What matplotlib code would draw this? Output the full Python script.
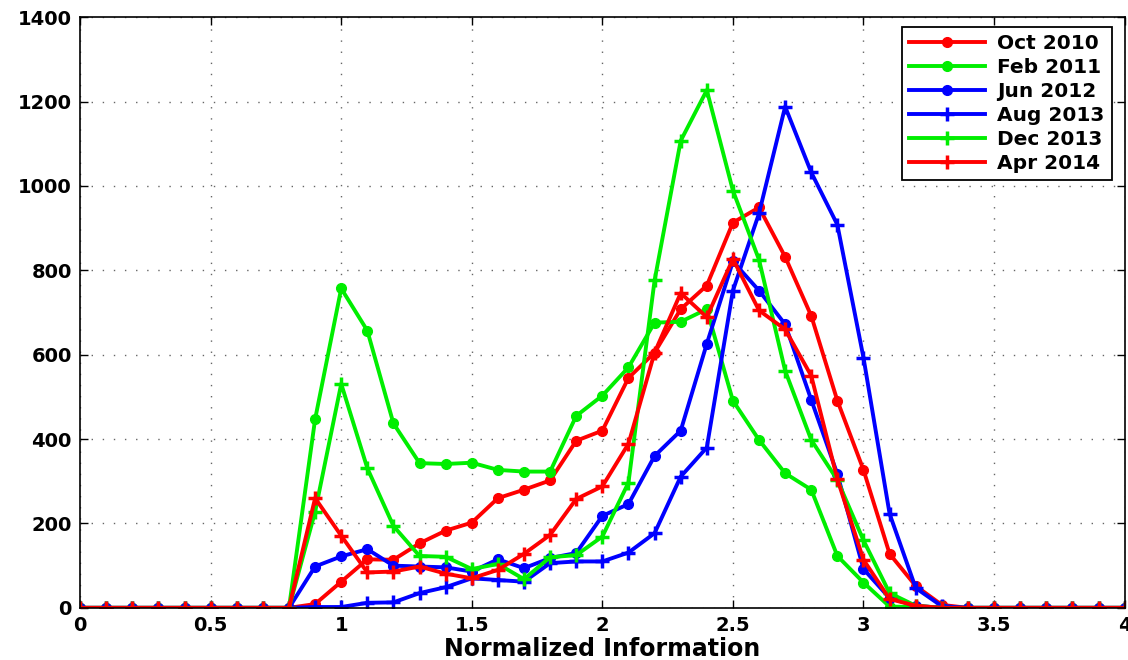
import numpy as np
import matplotlib
matplotlib.use("Agg")
import matplotlib.pyplot as plt

plt.rcParams['font.family'] = ['DejaVu Sans']
plt.rcParams['font.weight'] = 'bold'

# x positions: 0.0 .. 4.0 in steps of 0.1
x = np.round(np.arange(0, 4.01, 0.1), 1)

z9 = [0] * 9   # 0.0 - 0.8
z7 = [0] * 7   # 3.4 - 4.0

oct_2010 = z9 + [9, 62, 115, 114, 153, 183, 202, 260, 280, 302, 396, 420, 545, 605, 708,
                 764, 913, 949, 832, 692, 491, 327, 128, 52, 7] + z7
feb_2011 = z9 + [447, 757, 657, 437, 343, 341, 344, 327, 323, 323, 455, 503, 570, 676, 678,
                 708, 491, 398, 319, 280, 123, 60, 3, 2, 0] + z7
jun_2012 = z9 + [98, 122, 139, 100, 98, 96, 86, 115, 94, 118, 130, 218, 246, 360, 420,
                 626, 821, 752, 672, 493, 317, 92, 23, 5, 0] + z7
aug_2013 = z9 + [2, 2, 12, 13, 35, 49, 70, 66, 62, 106, 110, 110, 131, 177, 311,
                 380, 752, 935, 1188, 1032, 908, 593, 223, 47, 4] + z7
dec_2013 = z9 + [228, 531, 331, 194, 123, 121, 92, 104, 68, 120, 125, 169, 297, 776, 1107,
                 1227, 989, 825, 562, 398, 303, 160, 35, 5, 0] + z7
apr_2014 = z9 + [260, 171, 84, 86, 98, 81, 70, 90, 128, 173, 258, 288, 389, 605, 746,
                 689, 827, 705, 660, 550, 305, 114, 21, 5, 0] + z7

series = [
    ('Oct 2010', oct_2010, 'red', 'o'),
    ('Feb 2011', feb_2011, '#00ee00', 'o'),
    ('Jun 2012', jun_2012, 'blue', 'o'),
    ('Aug 2013', aug_2013, 'blue', '+'),
    ('Dec 2013', dec_2013, '#00ee00', '+'),
    ('Apr 2014', apr_2014, 'red', '+'),
]

fig = plt.figure(figsize=(11.28, 6.6), dpi=100)
ax = fig.add_axes([0.071, 0.079, 0.926, 0.895])

for label, vals, col, mk in series:
    if mk == 'o':
        ax.plot(x, vals, color=col, linewidth=2.8, marker='o', markersize=7,
                markeredgecolor=col, markerfacecolor=col, label=label)
    else:
        ax.plot(x, vals, color=col, linewidth=2.8, marker='+', markersize=10,
                markeredgewidth=2.5, label=label)

ax.set_xlim(0, 4)
ax.set_ylim(0, 1400)
ax.set_xticks(np.arange(0, 4.01, 0.5))
ax.set_xticklabels(['0', '0.5', '1', '1.5', '2', '2.5', '3', '3.5', '4'])
ax.set_yticks(np.arange(0, 1401, 200))
ax.tick_params(direction='in', length=6, width=1, labelsize=14, top=True, right=True)
ax.tick_params(axis='x', pad=6)
ax.tick_params(axis='y', pad=6)
for lab in ax.get_xticklabels() + ax.get_yticklabels():
    lab.set_fontweight('bold')

ax.grid(True, linestyle=(0, (1, 7)), color='#666666', linewidth=1.0)
for sp in ax.spines.values():
    sp.set_linewidth(1.2)

ax.set_xlabel('Normalized Information', fontsize=17, fontweight='bold', labelpad=1)

leg = ax.legend(loc='upper right', bbox_to_anchor=(0.9876, 0.983), borderaxespad=0,
                fontsize=14.5, handlelength=3.8, handletextpad=0.6, borderpad=0.35,
                labelspacing=0.25, fancybox=False, framealpha=1,
                edgecolor='black', numpoints=1)
leg.get_frame().set_linewidth(1.3)
for t in leg.get_texts():
    t.set_fontweight('bold')

fig.savefig('out.png', dpi=100)
